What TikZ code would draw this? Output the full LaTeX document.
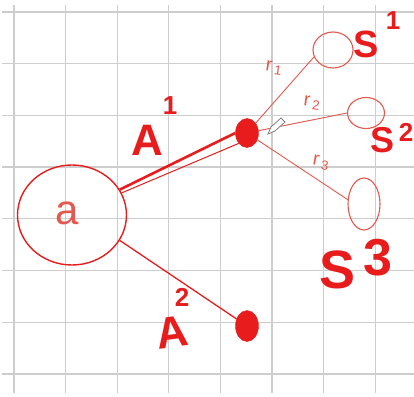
\documentclass[tikz,border=0pt]{standalone}
\usepackage{fontspec}
\setsansfont{Liberation Sans}
\usetikzlibrary{shapes.geometric}
\definecolor{ink}{RGB}{232,28,28}
\definecolor{thinink}{RGB}{228,88,78}
\definecolor{gridgray}{RGB}{205,205,205}

\begin{document}
\begin{tikzpicture}[x=1pt, y=-1pt,
    blob/.style={ellipse, fill=ink, draw=ink, inner sep=0pt},
    ring/.style={ellipse, draw=thinink, line width=1.1pt, inner sep=0pt},
    big/.style={ink, font=\sffamily\bfseries\fontsize{44}{44}\selectfont, inner sep=0pt},
    sup/.style={ink, font=\sffamily\bfseries\fontsize{26}{26}\selectfont, inner sep=0pt},
    rlab/.style={thinink, font=\sffamily\fontsize{19}{19}\selectfont, inner sep=0pt}]
    \useasboundingbox (0,0) rectangle (414,396);
    % The squared paper.
        \foreach \i in {0,...,7} {
            \draw[gridgray, line width=1.3pt] ({14+51.6*\i},5) -- ({14+51.6*\i},393);
            \draw[gridgray, line width=1.3pt] (2,{12+51.7*\i}) -- (414,{12+51.7*\i});
        }
    % The big circle and the dots.
        \node[ellipse, draw=ink, line width=1.4pt, minimum width=109pt, minimum height=100pt] (core) at (72,215) {};
        \node[thinink, font=\sffamily\fontsize{42}{42}\selectfont, inner sep=0pt] (a) at (67,213) {a};
        \node[blob, minimum width=23pt, minimum height=29pt] (hub) at (247,133) {};
        \node[blob, minimum width=23pt, minimum height=31pt] (leaf) at (247,326) {};
        \node[ring, minimum width=40pt, minimum height=36pt] (s1) at (333,50) {};
        \node[ring, minimum width=37pt, minimum height=31pt] (s2) at (366,113) {};
        \node[ring, minimum width=32pt, minimum height=52pt] (s3) at (364,204) {};
    % The connectors.
        \draw[ink, line width=2.6pt] (core.28) -- (hub.west);
        \draw[ink, line width=1pt] (core.24) -- (hub.south west);
        \draw[ink, line width=1.3pt] (core.-28) -- (leaf);
        \draw[thinink, line width=0.9pt] (hub) -- (s1.200);
        \draw[thinink, line width=0.9pt] (hub) -- (s2.180);
        \draw[thinink, line width=0.9pt] (hub) -- (s3.165);
    % The little pen of the screen.
        \draw[gray, line width=0.8pt, fill=white] (268,134) -- (271,127) -- (281,118) -- (285,122) -- (275,131) -- cycle;
    % Below nodes are the labels.
        \node[big] (A1) at (147,140) {A};
        \node[sup] (A1sup) at (170,106) {1};
        \node[big, rotate=8] (A2) at (172,332) {A};
        \node[sup] (A2sup) at (182,297) {2};
        \node[big, font=\sffamily\bfseries\fontsize{38}{38}\selectfont] (S1) at (366,44) {S};
        \node[sup] (S1sup) at (393,21) {1};
        \node[big, font=\sffamily\bfseries\fontsize{36}{36}\selectfont] (S2) at (382,140) {S};
        \node[sup] (S2sup) at (406,132) {2};
        \node[big, font=\sffamily\bfseries\fontsize{54}{54}\selectfont] (S3) at (338,270) {S};
        \node[big, font=\sffamily\bfseries\fontsize{52}{52}\selectfont] (S3sup) at (378,258) {3};
        \node[rlab, rotate=-8] (r1) at (274,68) {r\kern2.5pt\textsubscript{1}};
        \node[rlab, rotate=-8] (r2) at (312,103) {r\kern2.5pt\textsubscript{2}};
        \node[rlab, rotate=-10] (r3) at (321,163) {r\kern2.5pt\textsubscript{3}};
\end{tikzpicture}
\end{document}
